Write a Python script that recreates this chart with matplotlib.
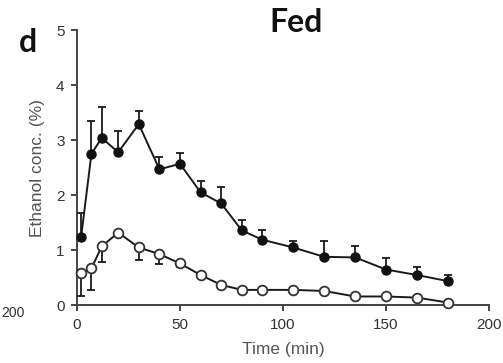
import matplotlib
matplotlib.use("Agg")
import matplotlib.pyplot as plt
import numpy as np

# Data
time_min = [2, 7, 12, 20, 30, 40, 50, 60, 70, 80, 90, 105, 120, 135, 150, 165, 180]
filled_mean = [1.24, 2.75, 3.04, 2.78, 3.29, 2.47, 2.57, 2.05, 1.85, 1.36, 1.19, 1.05, 0.88, 0.87, 0.65, 0.55, 0.44]
filled_err_up = [0.43, 0.59, 0.56, 0.39, 0.24, 0.23, 0.19, 0.21, 0.29, 0.19, 0.18, 0.12, 0.29, 0.21, 0.20, 0.14, 0.11]
open_mean = [0.58, 0.67, 1.07, 1.32, 1.05, 0.93, 0.76, 0.55, 0.37, 0.28, 0.28, 0.28, 0.26, 0.16, 0.16, 0.14, 0.05]
open_err_down = [0.42, 0.39, 0.28, 0.07, 0.23, 0.18, 0.06, 0.03, 0.02, 0.02, 0.02, 0.02, 0.02, 0.02, 0.02, 0.02, 0.02]
x_ticks = [0, 50, 100, 150, 200]
y_ticks = [0, 1, 2, 3, 4, 5]

W, H = 503, 363
fig = plt.figure(figsize=(W / 100, H / 100), dpi=100)
ax = fig.add_axes([77 / W, (H - 305.3) / H, 412 / W, 275.3 / H])

lc = "#1a1a1a"
zeros = [0] * len(time_min)
ax.errorbar(time_min, filled_mean, yerr=[zeros, filled_err_up], fmt="-o", color=lc,
            mfc="#111111", mec="#111111", ms=6.5, lw=1.4, elinewidth=1.3, capsize=3,
            capthick=1.3, clip_on=False, zorder=3)
ax.errorbar(time_min, open_mean, yerr=[open_err_down, zeros], fmt="-o", color=lc,
            mfc="white", mec="#333333", mew=1.3, ms=7, lw=1.4, elinewidth=1.3, capsize=3,
            capthick=1.3, clip_on=False, zorder=3)

ax.set_xlim(0, 200)
ax.set_ylim(0, 5)
ax.set_xticks(x_ticks)
ax.set_yticks(y_ticks)
for s in ["top", "right"]:
    ax.spines[s].set_visible(False)
for s in ["left", "bottom"]:
    ax.spines[s].set_color("#444444")
    ax.spines[s].set_linewidth(1.4)
ax.tick_params(colors="#444444", labelcolor="#333333", labelsize=11, width=1.4, length=4, pad=5)
for lab in ax.get_xticklabels() + ax.get_yticklabels():
    lab.set_family("Liberation Sans")

ax.set_xlabel("Time (min)", fontsize=12.5, color="#555555", family="Liberation Sans", labelpad=7)
ax.set_ylabel("Ethanol conc. (%)", fontsize=12.5, color="#555555", family="Liberation Sans", labelpad=8)

fig.text(296 / W, 1 - 22 / H, "Fed", fontsize=23, fontweight="bold", family="Lato",
         ha="center", va="center", color="#111111")
fig.text(28 / W, 1 - 42 / H, "d", fontsize=23, fontweight="bold", family="Lato",
         ha="center", va="center", color="#111111")
fig.text(1 / W, 1 - 313 / H, "200", fontsize=10, family="Liberation Sans",
         ha="left", va="center", color="#333333")

fig.savefig("out.png", dpi=100)
